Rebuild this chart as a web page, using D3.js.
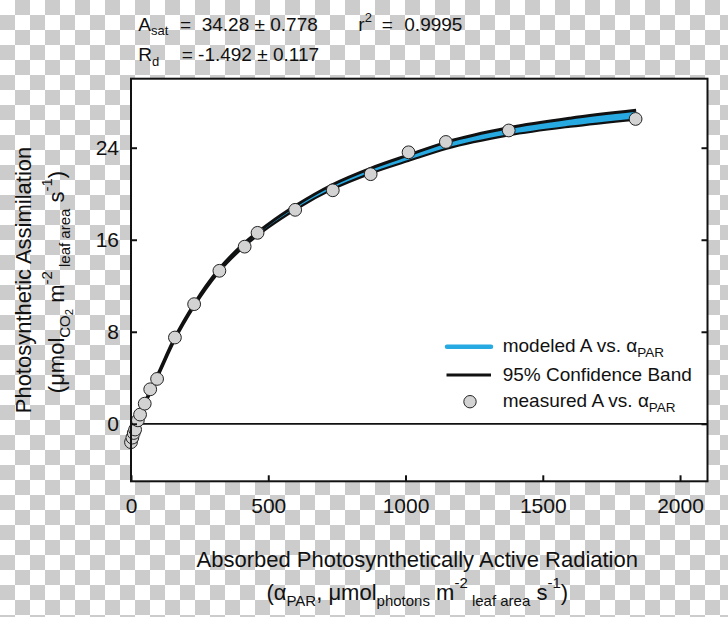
<!DOCTYPE html>
<html><head><meta charset="utf-8">
<script src="https://cdn.jsdelivr.net/npm/d3@7/dist/d3.min.js"></script>
<style>body{margin:0;background:#fff}svg{display:block}text{font-family:"Liberation Sans",Arial,sans-serif;fill:#111}</style>
</head><body>
<script>
// ---- data ----
const measuredPAR = [0, 5, 10, 15, 25, 33, 50, 70, 95, 160, 230, 322, 414, 461, 598, 735, 873, 1011, 1147, 1376, 1838];
const measuredA   = [-1.6, -1.2, -0.8, -0.5, 0.3, 0.8, 1.75, 3.0, 3.9, 7.5, 10.4, 13.3, 15.4, 16.6, 18.6, 20.3, 21.7, 23.6, 24.5, 25.5, 26.5];
const modelPAR = [0, 25, 50, 100, 160, 230, 320, 410, 500, 600, 735, 875, 1010, 1150, 1375, 1600, 1840];
const modelA   = [-1.5, 0.2, 1.7, 4.3, 7.4, 10.3, 13.3, 15.5, 17.2, 18.8, 20.6, 22.0, 23.1, 24.2, 25.4, 26.2, 26.85];
const bandUpperA = [-1.38, 0.32, 1.82, 4.42, 7.52, 10.42, 13.43, 15.64, 17.35, 18.97, 20.8, 22.23, 23.36, 24.49, 25.73, 26.57, 27.25];
const bandLowerA = [-1.62, 0.08, 1.58, 4.18, 7.28, 10.18, 13.17, 15.36, 17.05, 18.63, 20.4, 21.77, 22.84, 23.91, 25.07, 25.83, 26.45];
const xTickValues = [0, 500, 1000, 1500, 2000];
const yTickValues = [0, 8, 16, 24];
const legendLabels = ["modeled A vs. ", "95% Confidence Band", "measured A vs. "];

// ---- layout ----
const W = 728, H = 617;
const L = 131, R = 707.5, T = 78.7, B = 481.3;
const BLUE = "#27a9e1";

const svg = d3.select("body").append("svg").attr("width", W).attr("height", H);
const defs = svg.append("defs");
const pat = defs.append("pattern").attr("id", "checker").attr("patternUnits", "userSpaceOnUse")
  .attr("width", 30).attr("height", 30);
pat.append("rect").attr("width", 30).attr("height", 30).attr("fill", "#ffffff");
pat.append("rect").attr("x", 15).attr("y", 0).attr("width", 15).attr("height", 15).attr("fill", "#cccccc");
pat.append("rect").attr("x", 0).attr("y", 15).attr("width", 15).attr("height", 15).attr("fill", "#cccccc");
svg.append("rect").attr("width", W).attr("height", H).attr("fill", "url(#checker)");
svg.append("rect").attr("x", L).attr("y", T).attr("width", R - L).attr("height", B - T).attr("fill", "#fff");

const x = d3.scaleLinear().domain([0, 2100]).range([L, R]);
const y = d3.scaleLinear().domain([-5, 30]).range([B, T]);

// rich text helper
function rich(g, px, py, parts, o) {
  o = Object.assign({size: 19, sub: 13, subDy: 5, supDy: -9, anchor: "start"}, o || {});
  const t = g.append("text").attr("x", px).attr("y", py).attr("font-size", o.size).attr("text-anchor", o.anchor);
  let cur = 0;
  parts.forEach(p => {
    const [s, kind] = p;
    let target = 0, fs = o.size;
    if (kind === "sub") { target = o.subDy; fs = o.sub; }
    else if (kind === "sup") { target = o.supDy; fs = o.sub; }
    else if (kind === "subsub") { target = o.subDy + 3; fs = o.sub * 0.75; }
    t.append("tspan").attr("dy", target - cur).attr("font-size", fs).text(s);
    cur = target;
  });
  return t;
}

// ---- band + model ----
const idx = d3.range(modelPAR.length);
const area = d3.area().x(i => x(modelPAR[i])).y0(i => y(bandLowerA[i])).y1(i => y(bandUpperA[i])).curve(d3.curveMonotoneX);
const lineOf = arr => d3.line().x(i => x(modelPAR[i])).y(i => y(arr[i])).curve(d3.curveMonotoneX);
svg.append("path").attr("d", area(idx)).attr("fill", BLUE);
svg.append("path").attr("d", lineOf(modelA)(idx)).attr("fill", "none").attr("stroke", BLUE).attr("stroke-width", 2);
svg.append("path").attr("d", lineOf(bandUpperA)(idx)).attr("fill", "none").attr("stroke", "#111").attr("stroke-width", 3);
svg.append("path").attr("d", lineOf(bandLowerA)(idx)).attr("fill", "none").attr("stroke", "#111").attr("stroke-width", 2.2);

// zero line
svg.append("line").attr("x1", L).attr("x2", R).attr("y1", y(0)).attr("y2", y(0)).attr("stroke", "#111").attr("stroke-width", 1.8);

// measured points
svg.append("g").selectAll("circle").data(measuredPAR).join("circle")
  .attr("cx", (d) => x(d)).attr("cy", (d, i) => y(measuredA[i])).attr("r", 6.4)
  .attr("fill", "#d3d3d3").attr("stroke", "#222").attr("stroke-width", 1);

// ---- axes ----
const gx = svg.append("g").attr("transform", `translate(0,${B})`)
  .call(d3.axisBottom(x).tickValues(xTickValues).tickSize(-6).tickPadding(17).tickFormat(d3.format("d")));
const gy = svg.append("g").attr("transform", `translate(${L},0)`)
  .call(d3.axisLeft(y).tickValues(yTickValues).tickSize(-6).tickPadding(12).tickFormat(d3.format("d")));
const gr = svg.append("g").attr("transform", `translate(${R},0)`)
  .call(d3.axisRight(y).tickValues(yTickValues).tickSize(-6).tickFormat(""));
[gx, gy, gr].forEach(g => {
  g.select(".domain").remove();
  g.selectAll(".tick line").attr("stroke", "#111").attr("stroke-width", 2);
  g.selectAll(".tick text").attr("font-size", 21).attr("fill", "#111").attr("font-family", '"Liberation Sans",Arial,sans-serif');
});
svg.append("rect").attr("x", L).attr("y", T).attr("width", R - L).attr("height", B - T)
  .attr("fill", "none").attr("stroke", "#111").attr("stroke-width", 2);

// ---- axis titles ----
const cx = (L + R) / 2;
rich(svg, cx - 2, 566.5, [["Absorbed Photosynthetically Active Radiation", ""]], {size: 22, anchor: "middle"});
rich(svg, cx - 2, 600, [["(α", ""], ["PAR", "sub"], [", μmol", ""], ["photons", "sub"], [" m", ""], ["-2", "sup"], [" leaf area", "sub"], [" s", ""], ["-1", "sup"], [")", ""]],
  {size: 22, sub: 15, subDy: 6, supDy: -12, anchor: "middle"});
const cy = (T + B) / 2;
const gyt1 = svg.append("g").attr("transform", `translate(31,${cy})rotate(-90)`);
rich(gyt1, 0, 0, [["Photosynthetic Assimilation", ""]], {size: 22, anchor: "middle"});
const gyt2 = svg.append("g").attr("transform", `translate(64,${cy + 2})rotate(-90)`);
rich(gyt2, 0, 0, [["(μmol", ""], ["CO", "sub"], ["2", "subsub"], [" m", ""], ["-2", "sup"], [" leaf area", "sub"], [" s", ""], ["-1", "sup"], [")", ""]],
  {size: 22, sub: 15, subDy: 6, supDy: -12, anchor: "middle"});

// ---- annotations ----
rich(svg, 138.3, 30.7, [["A", ""], ["sat", "sub"]], {size: 19, sub: 13, subDy: 4.5});
rich(svg, 180, 30.7, [["=", ""]]);
rich(svg, 201.7, 30.7, [["34.28 ± 0.778", ""]]);
rich(svg, 358.3, 30.7, [["r", ""], ["2", "sup"]], {supDy: -9});
rich(svg, 381.7, 30.7, [["=", ""]]);
rich(svg, 404.3, 30.7, [["0.9995", ""]]);
rich(svg, 138.3, 61, [["R", ""], ["d", "sub"]], {size: 19, sub: 13, subDy: 4.5});
rich(svg, 181.7, 61, [["= -1.492 ± 0.117", ""]]);

// ---- legend ----
const lg = svg.append("g");
lg.append("line").attr("x1", 447).attr("x2", 491).attr("y1", 346.7).attr("y2", 346.7)
  .attr("stroke", BLUE).attr("stroke-width", 4.5).attr("stroke-linecap", "round");
lg.append("line").attr("x1", 446.5).attr("x2", 491).attr("y1", 375).attr("y2", 375)
  .attr("stroke", "#111").attr("stroke-width", 3);
lg.append("circle").attr("cx", 470).attr("cy", 401.7).attr("r", 6.2)
  .attr("fill", "#d3d3d3").attr("stroke", "#222").attr("stroke-width", 1);
const lopt = {size: 19, sub: 13.5, subDy: 5};
rich(lg, 502.7, 352.3, [[legendLabels[0], ""], ["α", ""], ["PAR", "sub"]], lopt);
rich(lg, 502.7, 380.7, [[legendLabels[1], ""]], lopt);
rich(lg, 502.7, 406.5, [[legendLabels[2], ""], ["α", ""], ["PAR", "sub"]], lopt);
</script>
</body></html>
